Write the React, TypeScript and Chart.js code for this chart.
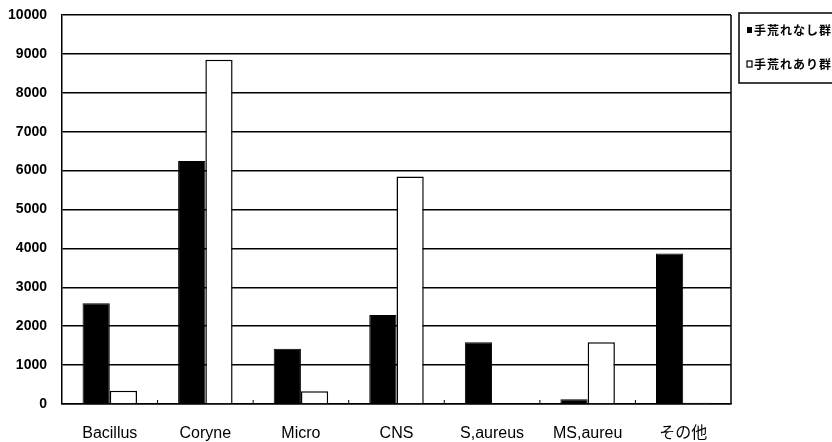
import React, { useEffect, useRef } from "react";
import { Chart, registerables } from "chart.js";

Chart.register(...registerables);

const categories = ["Bacillus", "Coryne", "Micro", "CNS", "S,aureus", "MS,aureu", "その他"];
const seriesNames = ["手荒れなし群", "手荒れあり群"];
const withoutRough = [2590, 6250, 1420, 2290, 1590, 120, 3870];
const withRough = [340, 8850, 330, 5850, 0, 1590, 30];
const yTicks = { min: 0, max: 10000, step: 1000 };

const frameAndLegend = {
  id: "frameAndLegend",
  afterDraw(chart: any) {
    const { ctx, chartArea } = chart;
    const xs = chart.scales.x;
    ctx.save();
    ctx.strokeStyle = "#000";
    ctx.lineWidth = 1.5;
    ctx.beginPath();
    ctx.moveTo(chartArea.right, chartArea.top);
    ctx.lineTo(chartArea.right, chartArea.bottom);
    ctx.stroke();
    // small category boundary ticks along the bottom
    const n = categories.length;
    const w = (chartArea.right - chartArea.left) / n;
    ctx.lineWidth = 1;
    for (let i = 1; i < n; i++) {
      const x = xs.getPixelForValue(i) - w / 2;
      ctx.beginPath();
      ctx.moveTo(x, chartArea.bottom);
      ctx.lineTo(x, chartArea.bottom - 4);
      ctx.stroke();
    }
    // legend box
    const lx = chartArea.right + 8;
    const ly = chartArea.top - 2;
    ctx.lineWidth = 1.5;
    ctx.strokeRect(lx, ly, 120, 70);
    ctx.font = "bold 12px 'Noto Sans CJK JP'";
    (ctx as any).letterSpacing = "1px";
    ctx.textBaseline = "middle";
    ctx.fillStyle = "#000";
    const rows = [ly + 17, ly + 51];
    seriesNames.forEach((name, i) => {
      const y = rows[i];
      if (i === 0) {
        ctx.fillRect(lx + 8, y - 3, 5, 6);
      } else {
        ctx.lineWidth = 1.2;
        ctx.strokeRect(lx + 8, y - 3, 5, 6);
      }
      ctx.fillText(name, lx + 15, y);
    });
    ctx.restore();
  },
};

export default function App() {
  const ref = useRef<HTMLCanvasElement>(null);
  useEffect(() => {
    if (!ref.current) return;
    const chart = new Chart(ref.current, {
      type: "bar",
      data: {
        labels: categories,
        datasets: [
          {
            label: seriesNames[0],
            data: withoutRough,
            backgroundColor: "#000",
            borderColor: "#000",
            borderWidth: 1,
            categoryPercentage: 0.57,
            barPercentage: 1,
          },
          {
            label: seriesNames[1],
            data: withRough,
            backgroundColor: "#fff",
            borderColor: "#000",
            borderWidth: 1.5,
            categoryPercentage: 0.57,
            barPercentage: 1,
          },
        ],
      },
      plugins: [frameAndLegend],
      options: {
        animation: false,
        responsive: false,
        devicePixelRatio: 1,
        layout: { padding: { top: 15, right: 101, left: 0, bottom: 0 } },
        plugins: { legend: { display: false }, tooltip: { enabled: false } },
        scales: {
          x: {
            grid: { display: false },
            border: { display: true, color: "#000", width: 1.5 },
            ticks: {
              color: "#000",
              padding: 12,
              font: { family: "'Liberation Sans', 'Noto Sans CJK JP'", size: 16 },
              maxRotation: 0,
              autoSkip: false,
            },
            afterFit: (s: any) => {
              s.height = 38;
              s.paddingLeft = 0;
              s.paddingRight = 0;
            },
          },
          y: {
            min: yTicks.min,
            max: yTicks.max,
            ticks: {
              stepSize: yTicks.step,
              color: "#000",
              padding: 15,
              font: { family: "'Liberation Sans'", size: 14, weight: "bold" },
              callback: (v: any) => String(v),
            },
            grid: { color: "#000", lineWidth: 1.5, drawTicks: false },
            border: { display: true, color: "#000", width: 1.5 },
            afterFit: (s: any) => {
              s.width = 62;
              s.paddingTop = 0;
              s.paddingBottom = 0;
            },
          },
        },
      },
    });
    return () => chart.destroy();
  }, []);
  return (
    <div style={{ position: "fixed", left: 0, top: 0, width: 832, height: 442, background: "#fff" }}>
      <canvas ref={ref} width={832} height={442} style={{ width: 832, height: 442 }} />
    </div>
  );
}
